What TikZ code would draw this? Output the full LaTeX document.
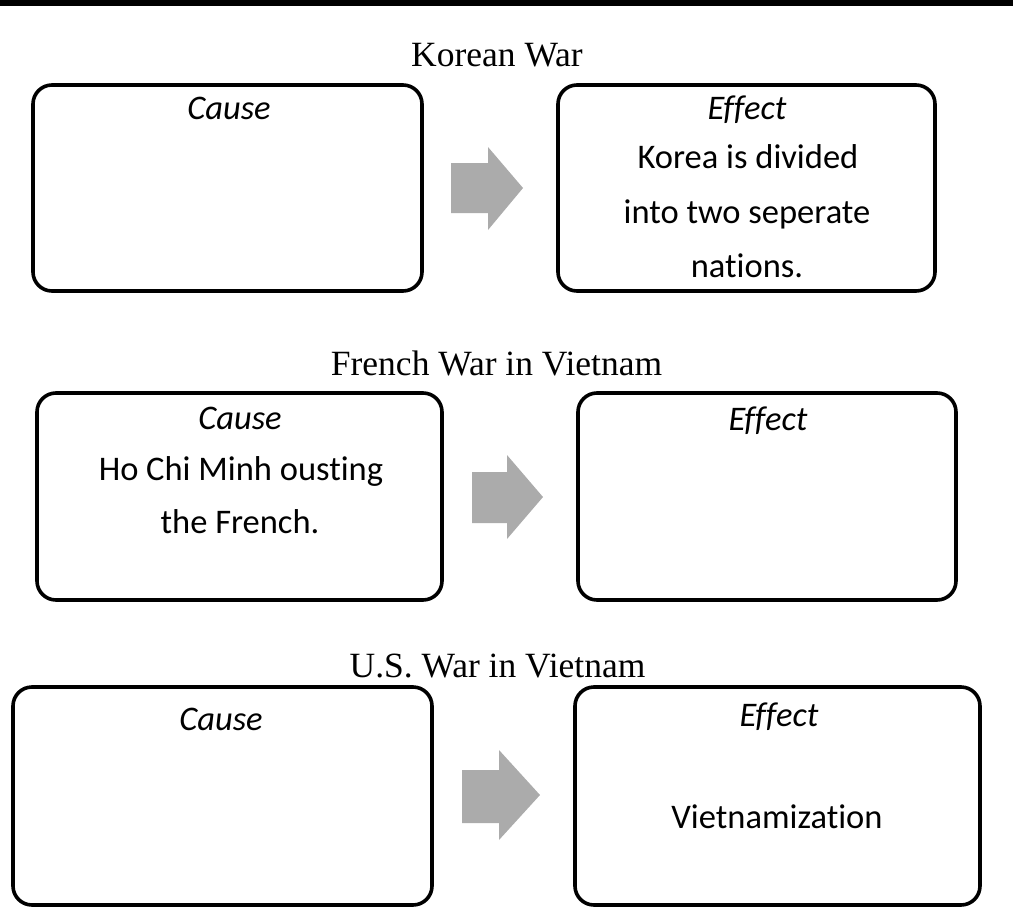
\documentclass[tikz,border=0pt]{standalone}
\usepackage{fontspec}
\setmainfont{Liberation Serif}
\newfontfamily\calfont[Ligatures=NoCommon]{Carlito}
\begin{document}
\begin{tikzpicture}[x=1pt,y=-1pt,
  box/.style={draw=black,line width=3.6pt,rounded corners=19pt,anchor=north west,inner sep=0pt,outer sep=0pt},
  ttl/.style={anchor=base,inner sep=0pt,font=\fontsize{35.5}{40}\selectfont},
  hd/.style={anchor=base,inner sep=0pt,font=\calfont\itshape\fontsize{34.5}{40}\selectfont},
  txt/.style={anchor=base,inner sep=0pt,font=\calfont\fontsize{34.5}{40}\selectfont},
  blk/.style={fill=black!33}]
\useasboundingbox (0,0) rectangle (1013,908);
\fill[black] (0,0) rectangle (1013,6);
% Row 1
\node[ttl] (t1) at (497,66) {Korean War};
\node[box,minimum width=389pt,minimum height=206pt] (c1) at (33,85) {};
\node[box,minimum width=377pt,minimum height=206pt] (e1) at (558,85) {};
\node[hd] (c1h) at (229,119) {Cause};
\node[hd] (e1h) at (747,119) {Effect};
\node[txt] (e1a) at (748,168) {Korea is divided};
\node[txt] (e1b) at (747,223) {into two seperate};
\node[txt] (e1c) at (747,277) {nations.};
\fill[blk] (451,163) -- (488,163) -- (488,147) -- (523,188) -- (488,230) -- (488,213) -- (451,213) -- cycle;
% Row 2
\node[ttl] (t2) at (496.5,375) {French War in Vietnam};
\node[box,minimum width=405pt,minimum height=207pt] (c2) at (37,393) {};
\node[box,minimum width=378pt,minimum height=207pt] (e2) at (578,393) {};
\node[hd] (c2h) at (240,429) {Cause};
\node[hd] (e2h) at (768,430) {Effect};
\node[txt] (c2a) at (241,480) {Ho Chi Minh ousting};
\node[txt] (c2b) at (240,533) {the French.};
\fill[blk] (472,472) -- (507,472) -- (507,455) -- (543,497) -- (507,539) -- (507,523) -- (472,523) -- cycle;
% Row 3
\node[ttl] (t3) at (497.5,677) {U.S. War in Vietnam};
\node[box,minimum width=419pt,minimum height=218pt] (c3) at (13,687) {};
\node[box,minimum width=405pt,minimum height=218pt] (e3) at (575,687) {};
\node[hd] (c3h) at (221,730) {Cause};
\node[hd] (e3h) at (779,726) {Effect};
\node[txt] (e3a) at (777,828) {Vietnamization};
\fill[blk] (462,770) -- (499,770) -- (499,750) -- (540,795) -- (499,840) -- (499,823) -- (462,823) -- cycle;
\end{tikzpicture}
\end{document}
